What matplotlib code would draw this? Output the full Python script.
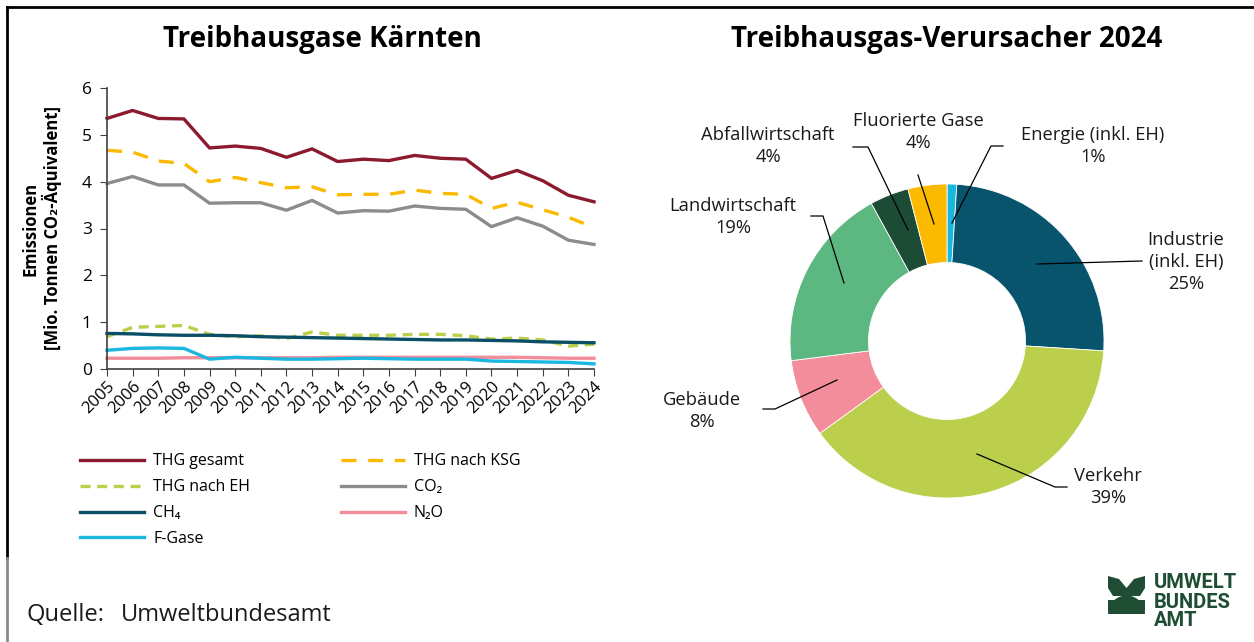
import matplotlib
matplotlib.use("Agg")
import matplotlib.pyplot as plt
from matplotlib.patches import Polygon, Wedge, Rectangle
from matplotlib.lines import Line2D

plt.rcParams['font.family'] = ['Open Sans', 'DejaVu Sans']

years = list(range(2005, 2025))
thg_gesamt = [5.35, 5.52, 5.35, 5.34, 4.72, 4.76, 4.71, 4.52, 4.70, 4.43,
              4.48, 4.45, 4.56, 4.50, 4.48, 4.07, 4.24, 4.02, 3.71, 3.57]
thg_ksg = [4.67, 4.63, 4.44, 4.39, 4.00, 4.09, 3.98, 3.87, 3.89, 3.72,
           3.73, 3.73, 3.82, 3.75, 3.73, 3.43, 3.56, 3.40, 3.24, 3.02]
thg_eh = [0.69, 0.89, 0.91, 0.93, 0.74, 0.69, 0.71, 0.65, 0.79, 0.72,
          0.72, 0.72, 0.74, 0.74, 0.71, 0.64, 0.66, 0.62, 0.49, 0.53]
co2 = [3.96, 4.11, 3.93, 3.93, 3.54, 3.55, 3.55, 3.39, 3.60, 3.33,
       3.38, 3.37, 3.48, 3.43, 3.41, 3.04, 3.23, 3.05, 2.75, 2.66]
ch4 = [0.76, 0.75, 0.73, 0.72, 0.72, 0.71, 0.69, 0.68, 0.67, 0.66,
       0.65, 0.64, 0.63, 0.62, 0.62, 0.61, 0.60, 0.58, 0.57, 0.56]
n2o = [0.23, 0.23, 0.23, 0.24, 0.24, 0.24, 0.24, 0.24, 0.24, 0.25,
       0.25, 0.25, 0.25, 0.25, 0.25, 0.25, 0.25, 0.24, 0.23, 0.23]
fgase = [0.40, 0.44, 0.45, 0.44, 0.21, 0.25, 0.23, 0.21, 0.21, 0.22,
         0.23, 0.22, 0.21, 0.21, 0.21, 0.17, 0.16, 0.15, 0.14, 0.11]

pie_labels = ["Energie (inkl. EH)\n1%", "Industrie\n(inkl. EH)\n25%", "Verkehr\n39%",
              "Gebäude\n8%", "Landwirtschaft\n19%", "Abfallwirtschaft\n4%",
              "Fluorierte Gase\n4%"]
pie_values = [1, 25, 39, 8, 19, 4, 4]
pie_colors = ["#1ab7e0", "#08546c", "#bbcf4c", "#f38c9b", "#5cb781", "#1d4c36", "#fbb900"]

W, H = 1254, 642
fig = plt.figure(figsize=(W / 100, H / 100), dpi=100)

# background axes for frame and logo (pixel coordinates)
bg = fig.add_axes([0, 0, 1, 1], zorder=-5)
bg.set_xlim(0, W)
bg.set_ylim(H, 0)
bg.axis('off')
bg.add_line(Line2D([7, W], [7, 7], color='black', lw=2))
bg.add_line(Line2D([7, 7], [7, 558], color='black', lw=2))
bg.add_line(Line2D([7, 7], [558, H], color='#8a8a8a', lw=2))

# logo
lg = "#1e4d33"
bg.add_patch(Polygon([[1108, 576], [1119, 579], [1126.5, 588], [1134, 579], [1145, 576],
                      [1145, 588], [1140, 596], [1113, 596], [1108, 588]],
                     closed=True, color=lg, lw=0))
bg.add_patch(Rectangle((1108, 600), 37, 11, color=lg, lw=0))
bg.add_patch(Wedge((1126.5, 614), 18.5, 180, 360, color=lg, lw=0))
for txt, yy in [("UMWELT", 583), ("BUNDES", 602), ("AMT", 621)]:
    bg.text(1154, yy, txt, fontsize=14.5, fontweight='bold', color=lg,
            family=['Roboto', 'DejaVu Sans'], va='center', ha='left')

bg.text(26, 615, "Quelle:", fontsize=17, color='#1a1a1a', va='center', ha='left')
bg.text(121, 615, "Umweltbundesamt", fontsize=17, color='#1a1a1a', va='center', ha='left')

# ---------- line chart ----------
ax = fig.add_axes([107 / W, 1 - 369 / H, (594 - 107) / W, (369 - 88) / H])
lw = 2.4
series = [
    ("THG gesamt", thg_gesamt, "#8c1a2e", '-'),
    ("THG nach KSG", thg_ksg, "#fbb900", (0, (4.5, 3.5))),
    ("THG nach EH", thg_eh, "#bbcf4c", (0, (3, 2))),
    ("CO₂", co2, "#8c8c8c", '-'),
    ("N₂O", n2o, "#f38c9b", '-'),
    ("F-Gase", fgase, "#1ab7e0", '-'),
    ("CH₄", ch4, "#0a4f66", '-'),
]
handles = {}
for name, vals, col, ls in series:
    h, = ax.plot(years, vals, color=col, lw=lw, ls=ls, label=name, clip_on=False)
    handles[name] = h

ax.set_xlim(2005, 2024)
ax.set_ylim(0, 6)
ax.set_xticks(years)
ax.set_xticklabels([str(y) for y in years], rotation=45, ha='right', va='top',
                   rotation_mode='anchor', fontsize=12)
ax.set_yticks(range(0, 7))
ax.tick_params(axis='y', labelsize=12.5, length=5, color='#404040', pad=6)
ax.tick_params(axis='x', length=5, color='#404040', pad=2)
for s in ['top', 'right']:
    ax.spines[s].set_visible(False)
for s in ['left', 'bottom']:
    ax.spines[s].set_color('#404040')
    ax.spines[s].set_linewidth(1.2)
ax.set_ylabel("Emissionen\n[Mio. Tonnen CO₂-Äquivalent]", fontsize=12,
              fontweight='bold', labelpad=14, linespacing=1.15)

order = ["THG gesamt", "THG nach EH", "CH₄", "F-Gase", "THG nach KSG", "CO₂", "N₂O"]
fig.legend([handles[n] for n in order], order, ncol=2, loc='upper left',
           bbox_to_anchor=(66 / W, 1 - 439 / H), frameon=False, fontsize=11.5,
           handlelength=4.0, columnspacing=5.7, labelspacing=0.62, handletextpad=0.55)

fig.text(322 / W, 1 - 39 / H, "Treibhausgase Kärnten", fontsize=20, fontweight='bold',
         ha='center', va='center')
fig.text(947 / W, 1 - 39 / H, "Treibhausgas-Verursacher 2024", fontsize=20,
         fontweight='bold', ha='center', va='center')

# ---------- donut ----------
R = 157
pax = fig.add_axes([(947 - R) / W, 1 - (341 + R) / H, 2 * R / W, 2 * R / H])
pax.pie(pie_values, colors=pie_colors, startangle=90, counterclock=False,
        radius=1, wedgeprops=dict(width=0.5, edgecolor='white', linewidth=0.6))
pax.set_xlim(-1, 1)
pax.set_ylim(-1, 1)
pax.set_aspect('equal')
pax.axis('off')


def d(px, py):
    return ((px - 947) / R, (341 - py) / R)


# label center, leader points (pixel)
label_specs = [
    ((1093, 146), [(1003, 146), (991, 146), (952, 223)]),
    ((1186, 262), [(1142, 261), (1037, 264)]),
    ((1108, 487), [(1067, 487), (1055, 487), (977, 454)]),
    ((702, 411), [(763, 409), (775, 409), (837, 380)]),
    ((733, 217), [(811, 216), (823, 216), (844, 283)]),
    ((768, 146), [(853, 147), (868, 147), (908, 230)]),
    ((918, 132), [(918, 175), (934, 224)]),
]
for lab, (pos, pts) in zip(pie_labels, label_specs):
    x, y = d(*pos)
    pax.text(x, y, lab, ha='center', va='center', fontsize=13.2, linespacing=1.28,
             color='#1a1a1a', clip_on=False)
    xs = [d(*p)[0] for p in pts]
    ys = [d(*p)[1] for p in pts]
    pax.add_line(Line2D(xs, ys, color='black', lw=0.9, clip_on=False))

fig.savefig("out.png", dpi=100)
